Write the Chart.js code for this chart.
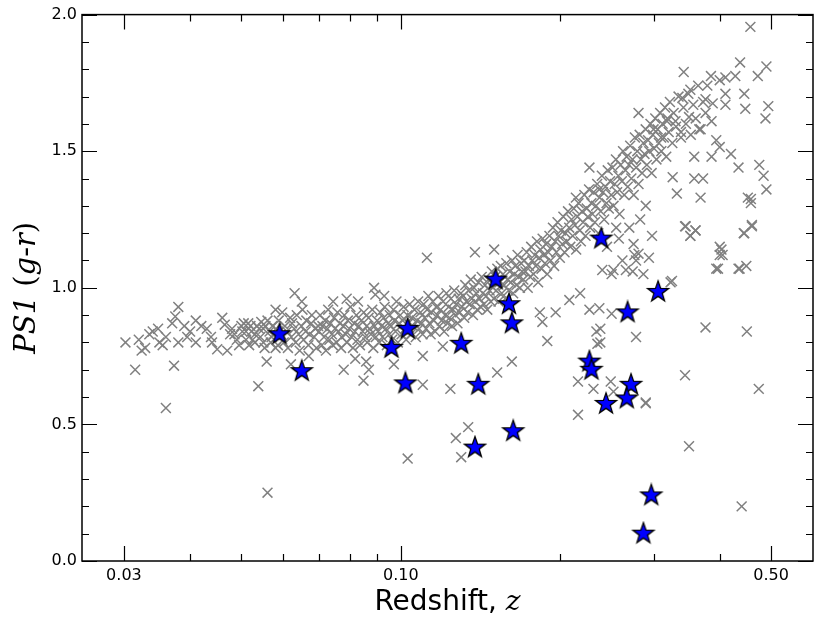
<!DOCTYPE html>
<html>
<head>
<meta charset="utf-8">
<script src="https://cdn.jsdelivr.net/npm/chart.js@4.4.0/dist/chart.umd.min.js"></script>
<style>
html, body { margin: 0; padding: 0; background: #fff; }
</style>
</head>
<body>
<canvas id="chart" width="830" height="623"></canvas>
<script>
// blue stars (redshift, colour)
const starZ = [0.059, 0.065, 0.096, 0.103, 0.102, 0.130, 0.140, 0.138, 0.151, 0.160, 0.162,
               0.163, 0.239, 0.227, 0.229, 0.244, 0.268, 0.272, 0.267, 0.306, 0.297, 0.287];
const starY = [0.83, 0.695, 0.78, 0.85, 0.65, 0.795, 0.645, 0.415, 1.03, 0.94, 0.87,
               0.475, 1.18, 0.73, 0.70, 0.575, 0.91, 0.645, 0.595, 0.985, 0.24, 0.10];

// grey crosses [z, g-r]
const crossPoints = [
  // low-z sparse end
  [0.0302,0.80],[0.0315,0.70],[0.032,0.81],[0.0324,0.77],[0.0329,0.78],[0.0335,0.83],[0.034,0.84],
  [0.0348,0.85],[0.035,0.80],[0.0355,0.79],[0.036,0.82],[0.036,0.56],[0.037,0.87],[0.0373,0.715],
  [0.0375,0.895],[0.038,0.93],[0.038,0.80],[0.039,0.86],[0.0395,0.82],[0.040,0.84],[0.041,0.80],
  [0.041,0.88],[0.042,0.86],[0.043,0.85],[0.0438,0.82],[0.044,0.80],[0.045,0.775],[0.046,0.89],
  [0.0465,0.865],[0.047,0.77],[0.0476,0.83],[0.048,0.85],[0.0485,0.83],[0.049,0.81],[0.0495,0.79],
  [0.050,0.86],[0.0502,0.84],[0.0505,0.87],[0.051,0.84],[0.051,0.81],[0.0515,0.87],[0.0517,0.79],
  [0.052,0.86],[0.0522,0.84],[0.0525,0.81],[0.053,0.83],[0.053,0.80],[0.0535,0.86],[0.0538,0.64],
  [0.054,0.85],[0.0543,0.82],[0.0545,0.875],[0.055,0.80],[0.055,0.85],[0.0553,0.78],[0.0555,0.86],
  [0.0558,0.73],[0.056,0.25],[0.056,0.88],[0.0565,0.84],[0.0568,0.80],[0.057,0.82],[0.0572,0.86],
  [0.0575,0.83],[0.058,0.92],[0.058,0.78],
  // main band
  [0.0581,0.85],[0.0586,0.79],[0.0588,0.88],[0.0594,0.83],[0.0597,0.91],[0.0601,0.80],[0.0604,0.86],
  [0.0609,0.84],[0.0612,0.78],[0.0618,0.89],[0.0621,0.82],[0.0623,0.87],[0.0629,0.85],[0.0633,0.80],
  [0.0636,0.90],[0.0641,0.83],[0.0644,0.77],[0.0649,0.86],[0.0652,0.92],[0.0655,0.81],[0.0661,0.84],
  [0.0663,0.88],[0.0669,0.79],[0.0672,0.83],[0.0677,0.87],[0.0679,0.90],[0.0686,0.82],[0.0689,0.85],
  [0.0693,0.78],[0.0698,0.86],
  [0.0701,0.84],[0.0704,0.90],[0.0709,0.79],[0.0711,0.86],[0.0716,0.82],[0.0719,0.88],[0.0722,0.77],
  [0.0727,0.85],[0.0729,0.92],[0.0733,0.81],[0.0736,0.87],[0.0741,0.83],[0.0744,0.79],[0.0745,0.95],
  [0.0748,0.89],[0.0751,0.85],[0.0756,0.80],[0.0759,0.91],[0.0763,0.84],[0.0767,0.87],[0.0771,0.78],
  [0.0773,0.82],[0.0779,0.86],[0.0782,0.90],[0.0787,0.83],[0.079,0.96],[0.0791,0.80],[0.0794,0.88],
  [0.0799,0.85],[0.0803,0.93],[0.0807,0.82],[0.0812,0.78],[0.0816,0.87],[0.0819,0.84],[0.0824,0.90],
  [0.0828,0.81],[0.083,0.95],[0.0833,0.86],[0.0837,0.79],[0.0842,0.88],[0.0847,0.84],[0.0851,0.91],
  [0.0856,0.82],[0.0862,0.86],[0.0864,0.80],[0.0869,0.89],[0.0873,0.85],[0.0878,0.83],[0.0883,0.92],
  [0.0887,0.78],[0.0892,0.86],[0.0897,0.82],
  [0.0902,0.88],[0.0906,0.84],[0.0911,0.80],[0.0914,0.91],[0.0919,0.86],[0.0923,0.82],[0.0928,0.89],
  [0.0932,0.93],[0.093,0.97],[0.0937,0.85],[0.0941,0.79],[0.0946,0.87],[0.0951,0.83],[0.0953,0.90],
  [0.0958,0.86],[0.0963,0.81],[0.0968,0.92],[0.0972,0.88],[0.0977,0.84],[0.0981,0.95],[0.0987,0.80],
  [0.0992,0.87],[0.0997,0.90],[0.1003,0.83],[0.1008,0.88],[0.1012,0.93],[0.1018,0.85],[0.1023,0.81],
  [0.1029,0.90],[0.1033,0.87],[0.1039,0.94],[0.1044,0.83],[0.1049,0.89],[0.1054,0.86],[0.1061,0.92],
  [0.1067,0.82],[0.1072,0.88],[0.1078,0.95],[0.1083,0.85],[0.1089,0.91],[0.1094,0.87],[0.1099,0.83],
  [0.1104,0.94],[0.1109,0.89],[0.1116,0.85],[0.1121,0.92],[0.1127,0.97],[0.1132,0.87],[0.1138,0.83],
  [0.1143,0.91],[0.1149,0.95],[0.1154,0.88],[0.1161,0.84],[0.1166,0.93],[0.1172,0.90],[0.1178,0.97],
  [0.1183,0.86],[0.1189,0.92],[0.1194,0.88],[0.1201,0.95],[0.1207,0.84],[0.1212,0.90],[0.1219,0.98],
  [0.1224,0.87],[0.1231,0.93],[0.1236,0.89],[0.1243,0.96],[0.1249,0.86],[0.1254,0.92],[0.1261,0.99],
  [0.1267,0.90],[0.1273,0.94],[0.1279,0.87],[0.1286,0.96],[0.1292,0.91],[0.1298,0.98],
  [0.1304,0.93],[0.1311,0.97],[0.1317,0.89],[0.1323,1.01],[0.1329,0.95],[0.1336,0.91],[0.1342,0.99],
  [0.1349,0.94],[0.1355,1.03],[0.1361,0.96],[0.1368,0.90],[0.1374,1.00],[0.1381,0.95],[0.1388,0.98],
  [0.1394,0.92],[0.1401,1.02],[0.1408,0.96],[0.1415,0.93],[0.1421,1.04],[0.1428,0.98],[0.1435,0.94],
  [0.1442,1.01],[0.1449,0.97],[0.1456,0.92],[0.1463,1.03],[0.1471,0.99],[0.1478,0.95],[0.1485,1.06],
  [0.1492,1.00],[0.1499,0.96],
  [0.1507,1.04],[0.1514,0.99],[0.1521,1.07],[0.1529,0.95],[0.1536,1.02],[0.1544,1.08],[0.1551,0.98],
  [0.1559,1.05],[0.1566,1.01],[0.1574,0.96],[0.1582,1.09],[0.1589,1.03],[0.1597,0.99],[0.1605,1.06],
  [0.1613,1.02],[0.1621,1.10],[0.1629,0.98],[0.1637,1.05],[0.1645,1.08],[0.1653,1.01],[0.1661,1.12],
  [0.1669,1.04],[0.1678,1.00],[0.1686,1.09],[0.1694,1.06],
  [0.1703,1.03],[0.1711,1.10],[0.1719,1.06],[0.1728,1.13],[0.1736,1.00],[0.1745,1.08],[0.1754,1.04],
  [0.1762,1.15],[0.1771,1.10],[0.1780,1.05],[0.1789,1.12],[0.1798,1.08],[0.1807,1.17],[0.1816,1.02],
  [0.1825,1.11],[0.1834,1.14],[0.1843,1.07],[0.1852,1.18],[0.1861,1.12],[0.1871,1.09],[0.1880,1.16],
  [0.1889,1.05],[0.1899,1.13],
  [0.1908,1.19],[0.1918,1.10],[0.1927,1.15],[0.1937,1.22],[0.1947,1.08],[0.1957,1.17],[0.1966,1.13],
  [0.1976,1.24],[0.1986,1.19],[0.1996,1.11],[0.2006,1.21],[0.2017,1.16],[0.2027,1.26],[0.2037,1.13],
  [0.2047,1.20],[0.2058,1.17],[0.2068,1.28],[0.2079,1.22],[0.2089,1.15],[0.2100,1.25],
  [0.2111,1.19],[0.2121,1.29],[0.2132,1.23],[0.2143,1.14],[0.2154,1.26],[0.2165,1.31],[0.2176,1.21],
  [0.2187,1.17],[0.2198,1.28],[0.2209,1.24],[0.2220,1.34],[0.2232,1.19],[0.2243,1.29],[0.2254,1.26],
  [0.2266,1.36],[0.2277,1.22],[0.2289,1.31],[0.2300,1.27],
  [0.2312,1.35],[0.2324,1.24],[0.2336,1.30],[0.2348,1.38],[0.2359,1.20],[0.2372,1.33],[0.2384,1.28],
  [0.2396,1.41],[0.2408,1.35],[0.2420,1.25],[0.2433,1.37],[0.2445,1.31],[0.2458,1.43],[0.2470,1.29],
  [0.2483,1.39],[0.2496,1.34],
  [0.2509,1.44],[0.2521,1.30],[0.2534,1.38],[0.2547,1.47],[0.2561,1.35],[0.2574,1.41],[0.2587,1.27],
  [0.2600,1.45],[0.2614,1.39],[0.2627,1.50],[0.2641,1.34],[0.2655,1.43],[0.2668,1.48],[0.2682,1.37],
  [0.2696,1.45],
  [0.2710,1.52],[0.2724,1.40],[0.2738,1.47],[0.2752,1.34],[0.2766,1.55],[0.2781,1.44],[0.2795,1.50],
  [0.2810,1.38],[0.2824,1.56],[0.2839,1.47],[0.2854,1.42],[0.2869,1.53],[0.2884,1.49],[0.2899,1.58],
  [0.2914,1.45],[0.2929,1.54],[0.2944,1.50],[0.2960,1.60],[0.2975,1.42],[0.2991,1.56],[0.3007,1.51],
  [0.3022,1.62],[0.3038,1.47],[0.3054,1.58],[0.3070,1.53],[0.3087,1.64],
  [0.3103,1.50],[0.3120,1.60],[0.3136,1.55],[0.3153,1.66],[0.3170,1.48],[0.3187,1.62],[0.3204,1.57],
  [0.3221,1.68],[0.3255,1.53],[0.3273,1.64],[0.3308,1.59],[0.3344,1.70],[0.3380,1.55],
  [0.3416,1.66],[0.3453,1.60],[0.3490,1.71],[0.3527,1.56],[0.3565,1.67],[0.3603,1.62],[0.3642,1.74],
  [0.3681,1.58],[0.3721,1.68],[0.3761,1.64],
  // below the band at z 0.24-0.30
  [0.245,1.15],[0.258,1.18],[0.262,1.10],[0.270,1.22],[0.283,1.25],[0.290,1.30],[0.255,1.22],
  [0.275,1.16],
  // high-z upper cloud
  [0.457,1.955],[0.437,1.825],[0.490,1.81],[0.472,1.775],[0.342,1.79],[0.385,1.775],[0.400,1.76],
  [0.410,1.77],[0.379,1.74],[0.428,1.775],[0.352,1.725],[0.340,1.695],[0.376,1.69],[0.388,1.675],
  [0.410,1.71],[0.410,1.67],[0.445,1.71],[0.447,1.655],[0.494,1.665],[0.488,1.62],[0.281,1.64],
  [0.300,1.58],[0.318,1.61],[0.330,1.61],[0.350,1.625],[0.366,1.58],[0.386,1.61],[0.310,1.55],
  [0.338,1.57],[0.394,1.54],[0.400,1.515],[0.358,1.48],[0.386,1.48],[0.420,1.49],[0.434,1.44],
  [0.475,1.45],[0.484,1.41],[0.490,1.36],[0.452,1.33],[0.458,1.325],[0.227,1.44],[0.358,1.40],
  [0.372,1.40],[0.368,1.33],[0.326,1.405],[0.332,1.345],[0.345,1.225],[0.360,1.21],[0.352,1.19],
  [0.445,1.20],[0.460,1.225],[0.400,1.15],[0.400,1.12],[0.394,1.07],[0.434,1.07],[0.449,1.08],
  [0.325,1.025],[0.403,1.14],[0.405,1.12],[0.397,1.07],[0.444,1.20],[0.458,1.31],[0.323,1.02],
  // scattered below the band
  [0.062,0.72],[0.063,0.98],[0.065,0.95],[0.067,0.75],[0.078,0.70],[0.082,0.74],[0.085,0.66],
  [0.086,0.73],[0.087,0.70],[0.089,1.00],[0.0895,0.975],[0.097,0.72],[0.103,0.375],[0.112,1.11],
  [0.138,1.13],[0.150,1.14],[0.110,0.645],[0.110,0.75],[0.120,0.785],[0.124,0.63],[0.127,0.45],
  [0.134,0.49],[0.130,0.38],[0.152,0.69],[0.162,0.73],[0.189,0.805],[0.183,0.91],[0.185,0.875],
  [0.196,0.91],[0.208,0.955],[0.218,0.98],[0.227,0.92],[0.237,0.925],[0.234,0.84],[0.235,0.795],
  [0.216,0.657],[0.216,0.535],[0.231,0.63],[0.249,0.657],[0.252,0.62],[0.290,0.577],[0.250,0.905],
  [0.278,0.82],[0.274,1.06],[0.252,1.065],[0.240,1.065],[0.281,1.125],[0.294,1.11],[0.298,1.19],
  [0.214,1.33],[0.237,1.36],[0.276,1.12],[0.250,1.05],[0.266,1.065],[0.278,1.10],[0.287,1.05],
  [0.344,1.225],[0.352,1.19],[0.360,1.21],[0.436,1.07],[0.460,1.23],[0.376,0.855],[0.450,0.84],
  [0.344,0.68],[0.474,0.63],[0.350,0.42],[0.440,0.20],[0.238,0.85],[0.238,0.80],[0.290,0.58]
];

const xMajorTicks = [0.03, 0.1, 0.5];
const xMinorTicks = [0.04, 0.05, 0.06, 0.07, 0.08, 0.09, 0.2, 0.3, 0.4];
const yMajorTicks = [0.0, 0.5, 1.0, 1.5, 2.0];
const yMinorTicks = [0.1, 0.2, 0.3, 0.4, 0.6, 0.7, 0.8, 0.9, 1.1, 1.2, 1.3, 1.4, 1.6, 1.7, 1.8, 1.9];

function makeStar(r) {
  const c = document.createElement('canvas');
  const size = Math.ceil(r * 2 + 4);
  c.width = c.height = size;
  const g = c.getContext('2d');
  const cx = size / 2, cy = size / 2;
  g.beginPath();
  for (let i = 0; i < 10; i++) {
    const rad = i % 2 === 0 ? r : r * 0.4;
    const a = -Math.PI / 2 + i * Math.PI / 5;
    g.lineTo(cx + rad * Math.cos(a), cy + rad * Math.sin(a));
  }
  g.closePath();
  g.fillStyle = '#0000ff';
  g.fill();
  g.lineJoin = 'miter';
  g.lineWidth = 1.3;
  g.strokeStyle = '#000';
  g.stroke();
  return c;
}

function drawRuns(ctx, runs, cx, cy) {
  let total = 0;
  runs.forEach(r => { ctx.font = r.font; r.w = ctx.measureText(r.text).width; total += r.w; });
  let x = cx - total / 2;
  runs.forEach(r => { ctx.font = r.font; ctx.fillText(r.text, x, cy); x += r.w; });
}

const axisDecor = {
  id: 'axisDecor',
  afterDraw(chart) {
    const { ctx, chartArea: a, scales: { x, y } } = chart;
    ctx.save();
    ctx.strokeStyle = '#000';
    ctx.lineWidth = 1.2;
    ctx.beginPath();
    const xt = (v, len) => {
      const p = Math.round(x.getPixelForValue(v)) + 0.5;
      ctx.moveTo(p, a.bottom); ctx.lineTo(p, a.bottom - len);
      ctx.moveTo(p, a.top); ctx.lineTo(p, a.top + len);
    };
    const yt = (v, len) => {
      const p = Math.round(y.getPixelForValue(v)) + 0.5;
      ctx.moveTo(a.left, p); ctx.lineTo(a.left + len, p);
      ctx.moveTo(a.right, p); ctx.lineTo(a.right - len, p);
    };
    xMajorTicks.forEach(v => xt(v, 15));
    xMinorTicks.forEach(v => xt(v, 7));
    yMajorTicks.forEach(v => yt(v, 15));
    yMinorTicks.forEach(v => yt(v, 7));
    ctx.stroke();
    ctx.lineWidth = 1.5;
    ctx.strokeRect(a.left, a.top, a.right - a.left, a.bottom - a.top);

    ctx.fillStyle = '#000';
    ctx.textAlign = 'left';
    ctx.textBaseline = 'alphabetic';
    drawRuns(ctx, [
      { text: 'Redshift, ', font: '28px "DejaVu Sans"' },
      { text: 'z', font: 'italic 28px "DejaVu Serif"' }
    ], (a.left + a.right) / 2, 610);

    ctx.translate(35, (a.top + a.bottom) / 2);
    ctx.rotate(-Math.PI / 2);
    drawRuns(ctx, [
      { text: 'PS1', font: 'italic 29px "DejaVu Serif"' },
      { text: ' (', font: '29px "DejaVu Serif"' },
      { text: 'g', font: 'italic 29px "DejaVu Serif"' },
      { text: '-', font: '29px "DejaVu Serif"' },
      { text: 'r', font: 'italic 29px "DejaVu Serif"' },
      { text: ')', font: '29px "DejaVu Serif"' }
    ], 0, 0);
    ctx.restore();
  }
};

const ctx = document.getElementById('chart').getContext('2d');
new Chart(ctx, {
  type: 'scatter',
  data: {
    datasets: [
      {
        label: 'stars',
        data: starZ.map((z, i) => ({ x: z, y: starY[i] })),
        pointStyle: makeStar(11),
        pointRadius: 11,
        order: 0
      },
      {
        label: 'crosses',
        data: crossPoints.map(p => ({ x: p[0], y: p[1] })),
        pointStyle: 'crossRot',
        pointRadius: 7,
        borderColor: '#808080',
        backgroundColor: '#808080',
        borderWidth: 1.5,
        order: 1
      }
    ]
  },
  options: {
    responsive: false,
    animation: false,
    events: [],
    layout: { padding: { top: 12, right: 17, left: 0, bottom: 0 } },
    plugins: { legend: { display: false }, tooltip: { enabled: false } },
    scales: {
      x: {
        type: 'logarithmic',
        min: 0.025,
        max: 0.6,
        afterBuildTicks: s => { s.ticks = xMajorTicks.map(v => ({ value: v })); },
        afterFit: s => { s.height = 62; },
        grid: { display: false, drawTicks: false },
        border: { display: false },
        ticks: {
          callback: v => Number(v).toFixed(2),
          font: { family: 'DejaVu Sans', size: 16 },
          color: '#000',
          padding: 5,
          autoSkip: false,
          maxRotation: 0
        }
      },
      y: {
        min: 0,
        max: 2,
        afterBuildTicks: s => { s.ticks = yMajorTicks.map(v => ({ value: v })); },
        afterFit: s => { s.width = 82; },
        grid: { display: false, drawTicks: false },
        border: { display: false },
        ticks: {
          callback: v => Number(v).toFixed(1),
          font: { family: 'DejaVu Sans', size: 16 },
          color: '#000',
          padding: 5
        }
      }
    }
  },
  plugins: [axisDecor]
});
</script>
</body>
</html>
